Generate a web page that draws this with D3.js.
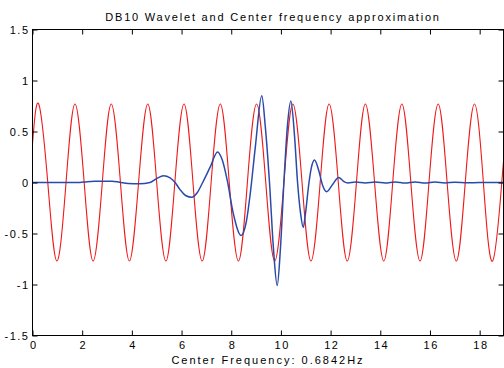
<!DOCTYPE html>
<html>
<head>
<meta charset="utf-8">
<script src="https://cdn.jsdelivr.net/npm/d3@7"></script>
<style>
html,body{margin:0;padding:0;background:#fff;}
svg{display:block;}
text{font-family:"Liberation Sans",Arial,Helvetica,sans-serif;fill:#000;}
</style>
</head>
<body>
<script>
const titleText = "DB10 Wavelet and Center frequency approximation";
const xLabelText = "Center Frequency: 0.6842Hz";
const xTicks = [0, 2, 4, 6, 8, 10, 12, 14, 16, 18];
const yTicks = [-1.5, -1, -0.5, 0, 0.5, 1, 1.5];
const yTickLabels = ["-1.5", "-1", "-0.5", "0", "0.5", "1", "1.5"];

// Center-frequency sinusoid (peaks, zero crossings, troughs)
const redX = [0, 0.25, 0.615, 0.98, 1.35, 1.71, 2.08, 2.44, 2.81, 3.17, 3.54, 3.90, 4.27, 4.64, 5.00, 5.37, 5.73,
  6.10, 6.46, 6.83, 7.19, 7.56, 7.92, 8.29, 8.65, 9.02, 9.39, 9.75, 10.12, 10.48, 10.85, 11.21, 11.58, 11.94,
  12.31, 12.67, 13.04, 13.40, 13.77, 14.14, 14.50, 14.87, 15.23, 15.60, 15.96, 16.33, 16.69, 17.06, 17.42,
  17.79, 18.15, 18.52, 18.89, 19.0];
const redY = [0.38,
  0.77, 0, -0.77, 0, 0.77, 0, -0.77, 0, 0.77, 0, -0.77, 0, 0.77, 0, -0.77, 0,
  0.77, 0, -0.77, 0, 0.77, 0, -0.77, 0, 0.77, 0, -0.77, 0, 0.77, 0, -0.77, 0,
  0.77, 0, -0.77, 0, 0.77, 0, -0.77, 0, 0.77, 0, -0.77, 0, 0.77, 0, -0.77, 0,
  0.77, 0, -0.77, 0, 0.30];

// DB10 wavelet function psi
const blueX = [0, 1.9, 2.2, 2.5, 3.2, 3.5, 3.85, 4.3, 4.73, 5.01, 5.27, 5.54, 5.74, 5.94, 6.18, 6.41, 6.63,
  6.85, 7.15, 7.45, 7.64, 7.84, 8.08, 8.40, 8.61, 8.77, 8.97, 9.23, 9.37, 9.54, 9.70, 9.85, 9.98, 10.12,
  10.26, 10.40, 10.55, 10.67, 10.79, 10.90, 10.99, 11.13, 11.23, 11.35, 11.52, 11.68, 11.84, 12.08, 12.32,
  12.53, 12.69, 13.0, 13.4, 13.8, 14.2, 14.6, 15.0, 15.4, 15.8, 16.2, 16.6, 17.0, 17.5, 18.0, 19.0];
const blueY = [0, 0, 0.008, 0.012, 0.012, 0.003, -0.01, -0.012, 0.0, 0.04, 0.065, 0.045, 0.0, -0.07, -0.13,
  -0.145, -0.1, 0.0, 0.15, 0.30, 0.22, 0.02, -0.3, -0.52, -0.38, -0.1, 0.35, 0.85, 0.55, 0.0, -0.65, -1.01,
  -0.65, 0.0, 0.55, 0.80, 0.45, 0.0, -0.3, -0.44, -0.3, 0.0, 0.15, 0.22, 0.12, -0.03, -0.09, -0.02, 0.05,
  0.01, -0.005, 0.004, -0.005, 0.004, -0.005, 0.005, -0.005, 0.005, -0.005, 0.005, -0.004, 0.003, -0.003,
  0, 0];

(function () {
const W = 504, H = 368;
const mLeft = 32.5, mRight = 504.5, mTop = 29.5, mBottom = 335.5, boxRight = 503.5;

const svg = d3.select("body").append("svg").attr("width", W).attr("height", H);

const x = d3.scaleLinear().domain([0, 19]).range([mLeft, mRight]);
const y = d3.scaleLinear().domain([-1.5, 1.5]).range([mBottom, mTop]);

svg.append("clipPath").attr("id", "clip").append("rect")
  .attr("x", mLeft).attr("y", mTop).attr("width", boxRight - mLeft).attr("height", mBottom - mTop);

const redData = redX.map((v, i) => [v, redY[i]]);
const blueData = blueX.map((v, i) => [v, blueY[i]]);

svg.append("path")
  .attr("clip-path", "url(#clip)")
  .attr("d", d3.line().x(d => x(d[0])).y(d => y(d[1])).curve(d3.curveNatural)(redData))
  .attr("fill", "none").attr("stroke", "#f01818").attr("stroke-width", 1.1);

svg.append("path")
  .attr("clip-path", "url(#clip)")
  .attr("d", d3.line().x(d => x(d[0])).y(d => y(d[1])).curve(d3.curveMonotoneX)(blueData))
  .attr("fill", "none").attr("stroke", "#2a4aaa").attr("stroke-width", 1.5);

const tl = 5;
const xb = svg.append("g").attr("transform", `translate(0,${mBottom})`)
  .call(d3.axisBottom(x).tickValues(xTicks).tickSizeInner(-tl).tickSizeOuter(0).tickPadding(6).tickFormat(d3.format("d")));
const xt = svg.append("g").attr("transform", `translate(0,${mTop})`)
  .call(d3.axisTop(x).tickValues(xTicks).tickSizeInner(-tl).tickSizeOuter(0).tickFormat(""));
const yl = svg.append("g").attr("transform", `translate(${mLeft},0)`)
  .call(d3.axisLeft(y).tickValues(yTicks).tickSizeInner(-tl).tickSizeOuter(0).tickPadding(3)
    .tickFormat((d, i) => yTickLabels[i]));
const yr = svg.append("g").attr("transform", `translate(${boxRight},0)`)
  .call(d3.axisRight(y).tickValues(yTicks).tickSizeInner(-tl).tickSizeOuter(0).tickFormat(""));

[xb, xt, yl, yr].forEach(g => {
  g.select(".domain").remove();
  g.selectAll("line").attr("stroke", "#000");
  g.selectAll("text").style("font-size", "11px").style("letter-spacing", "1.5px")
    .style("font-family", "'Liberation Sans', Arial, sans-serif").attr("fill", "#000");
});
xb.selectAll("text").attr("dx", "0.75px");

svg.append("rect").attr("x", mLeft).attr("y", mTop).attr("width", boxRight - mLeft).attr("height", mBottom - mTop)
  .attr("fill", "none").attr("stroke", "#000").attr("stroke-width", 1);

svg.append("text").attr("x", 273).attr("y", 21).attr("text-anchor", "middle")
  .style("font-size", "11px").style("letter-spacing", "1.8px").text(titleText);

svg.append("text").attr("x", 268).attr("y", 364).attr("text-anchor", "middle")
  .style("font-size", "11px").style("letter-spacing", "2px").text(xLabelText);
})();
</script>
</body>
</html>
